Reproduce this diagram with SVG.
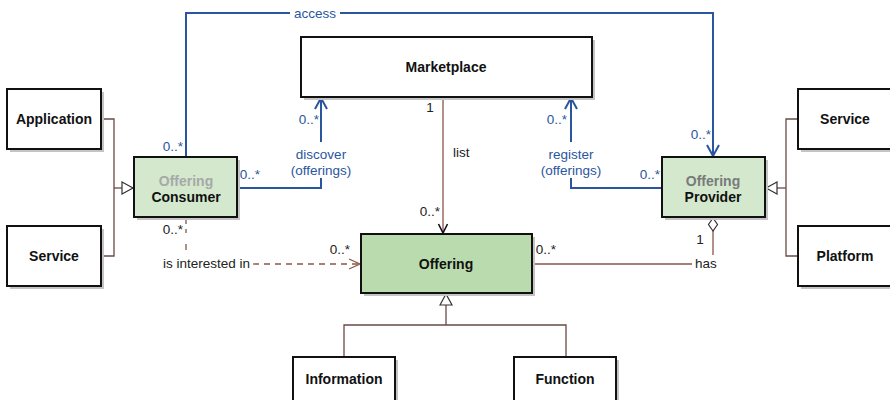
<svg xmlns="http://www.w3.org/2000/svg" width="890" height="400" viewBox="0 0 890 400">
<style>
.box{fill:#fff;stroke:#111;stroke-width:2}
.shadow{fill:#c4c4c4}
.green1{fill:#d3e8cd;stroke:#111;stroke-width:2}
.green2{fill:#b9dbad;stroke:#111;stroke-width:2}
.title{font-family:"Liberation Sans",Arial,sans-serif;font-size:14px;font-weight:bold;fill:#111;text-anchor:middle}
.sub{font-family:"Liberation Sans",Arial,sans-serif;font-size:14px;font-weight:bold;text-anchor:middle}
.lbl{font-family:"Liberation Sans",Arial,sans-serif;font-size:13.5px;fill:#222}
.blbl{font-family:"Liberation Sans",Arial,sans-serif;font-size:13.5px;fill:#2a56a0}
.blue{fill:none;stroke:#2a56a0;stroke-width:2}
.brown{fill:none;stroke:#8a5548;stroke-width:1.3}
.gen{fill:none;stroke:#6a4a44;stroke-width:1.3}
.dash{fill:none;stroke:#8a5548;stroke-width:1.3;stroke-dasharray:6,5}
</style>
<defs>
<marker id="openBlue" markerWidth="14" markerHeight="14" refX="12" refY="7" orient="auto" markerUnits="userSpaceOnUse">
<path d="M1,1 L12,7 L1,13" fill="none" stroke="#2a56a0" stroke-width="2"/>
</marker>
<marker id="openBlack" markerWidth="12" markerHeight="12" refX="10" refY="6" orient="auto" markerUnits="userSpaceOnUse">
<path d="M1,1.5 L10,6 L1,10.5" fill="none" stroke="#111" stroke-width="1.6"/>
</marker>
<marker id="openBrown" markerWidth="14" markerHeight="14" refX="12" refY="7" orient="auto" markerUnits="userSpaceOnUse">
<path d="M1,2 L12,7 L1,12" fill="none" stroke="#8a5548" stroke-width="1.3"/>
</marker>
<marker id="tri" markerWidth="14" markerHeight="14" refX="12" refY="7" orient="auto" markerUnits="userSpaceOnUse">
<path d="M1,1 L12,7 L1,13 Z" fill="#fff" stroke="#333" stroke-width="1.2"/>
</marker>
<marker id="diamond" markerWidth="16" markerHeight="12" refX="14" refY="6" orient="auto" markerUnits="userSpaceOnUse">
<path d="M1,6 L7.5,1.5 L14,6 L7.5,10.5 Z" fill="#fff" stroke="#333" stroke-width="1.2"/>
</marker>
</defs>

<g id="connectors">
<!-- access -->
<path class="blue" d="M186,157 V13 H290"/>
<path class="blue" d="M340,13 H713 V156" marker-end="url(#openBlue)"/>
<text class="blbl" x="315" y="18" text-anchor="middle">access</text>
<!-- discover -->
<path class="blue" d="M237,188 H321 V178"/>
<path class="blue" d="M321,142 V98" marker-end="url(#openBlue)"/>
<text class="blbl" x="321" y="159" text-anchor="middle">discover</text>
<text class="blbl" x="321" y="175" text-anchor="middle">(offerings)</text>
<text class="blbl" x="309" y="124" text-anchor="middle">0..*</text>
<text class="blbl" x="250" y="179" text-anchor="middle">0..*</text>
<!-- register -->
<path class="blue" d="M663,188 H571 V178"/>
<path class="blue" d="M571,142 V98" marker-end="url(#openBlue)"/>
<text class="blbl" x="571" y="159" text-anchor="middle">register</text>
<text class="blbl" x="571" y="175" text-anchor="middle">(offerings)</text>
<text class="blbl" x="557" y="124" text-anchor="middle">0..*</text>
<text class="blbl" x="650" y="179" text-anchor="middle">0..*</text>
<text class="blbl" x="173" y="151" text-anchor="middle">0..*</text>
<text class="blbl" x="701" y="139" text-anchor="middle">0..*</text>
<!-- list -->
<path class="brown" d="M443,97 V233" marker-end="url(#openBlack)"/>
<text class="lbl" x="430" y="112" text-anchor="middle">1</text>
<text class="lbl" x="453" y="157">list</text>
<text class="lbl" x="430" y="216" text-anchor="middle">0..*</text>
<!-- is interested in -->
<path class="dash" d="M186,218 V233"/>
<path class="dash" d="M186,244 V250"/>
<path class="dash" d="M253,264 H360" marker-end="url(#openBrown)"/>
<text class="lbl" x="173" y="234" text-anchor="middle">0..*</text>
<text class="lbl" x="163" y="268">is interested in</text>
<text class="lbl" x="340" y="254" text-anchor="middle">0..*</text>
<!-- has -->
<path class="brown" d="M532,264 H692"/>
<path class="brown" d="M713,255 V218" marker-end="url(#diamond)"/>
<text class="lbl" x="695" y="268">has</text>
<text class="lbl" x="700" y="244" text-anchor="middle">1</text>
<text class="lbl" x="546" y="254" text-anchor="middle">0..*</text>
<!-- generalizations -->
<path class="gen" d="M101,119 H114 V256 H101"/>
<path class="gen" d="M114,188 H133" marker-end="url(#tri)"/>
<path class="gen" d="M798,119 H786 V256 H798"/>
<path class="gen" d="M786,188 H766" marker-end="url(#tri)"/>
<path class="gen" d="M344,357 V325 H566 V357"/>
<path class="gen" d="M446,325 V294" marker-end="url(#tri)"/>
</g>

<g id="application">
<rect class="shadow" x="10" y="92" width="94" height="60"/>
<rect class="box" x="7" y="89" width="94" height="60"/>
<text class="title" x="54" y="124">Application</text>
</g>
<g id="service-left">
<rect class="shadow" x="10" y="229" width="94" height="60"/>
<rect class="box" x="7" y="226" width="94" height="60"/>
<text class="title" x="54" y="261">Service</text>
</g>
<g id="consumer">
<rect class="shadow" x="137" y="160" width="103" height="60"/>
<rect class="green1" x="134" y="157" width="103" height="60"/>
<text class="sub" x="186" y="186" fill="#a8a8a8">Offering</text>
<text class="title" x="186" y="202">Consumer</text>
</g>
<g id="marketplace">
<rect class="shadow" x="304" y="40" width="291" height="60"/>
<rect class="box" x="301" y="37" width="291" height="60"/>
<text class="title" x="446" y="72">Marketplace</text>
</g>
<g id="provider">
<rect class="shadow" x="665" y="160" width="103" height="60"/>
<rect class="green1" x="662" y="157" width="103" height="60"/>
<text class="sub" x="713" y="186" fill="#7a7a7a">Offering</text>
<text class="title" x="713" y="202">Provider</text>
</g>
<g id="service-right">
<rect class="shadow" x="801" y="92" width="94" height="60"/>
<rect class="box" x="798" y="89" width="94" height="60"/>
<text class="title" x="845" y="124">Service</text>
</g>
<g id="platform">
<rect class="shadow" x="801" y="229" width="94" height="60"/>
<rect class="box" x="798" y="226" width="94" height="60"/>
<text class="title" x="845" y="261">Platform</text>
</g>
<g id="offering">
<rect class="shadow" x="364" y="237" width="171" height="59"/>
<rect class="green2" x="361" y="234" width="171" height="59"/>
<text class="title" x="446" y="269">Offering</text>
</g>
<g id="information">
<rect class="shadow" x="296" y="360" width="102" height="50"/>
<rect class="box" x="293" y="357" width="102" height="50"/>
<text class="title" x="344" y="384">Information</text>
</g>
<g id="function">
<rect class="shadow" x="517" y="360" width="102" height="50"/>
<rect class="box" x="514" y="357" width="102" height="50"/>
<text class="title" x="565" y="384">Function</text>
</g>
</svg>
